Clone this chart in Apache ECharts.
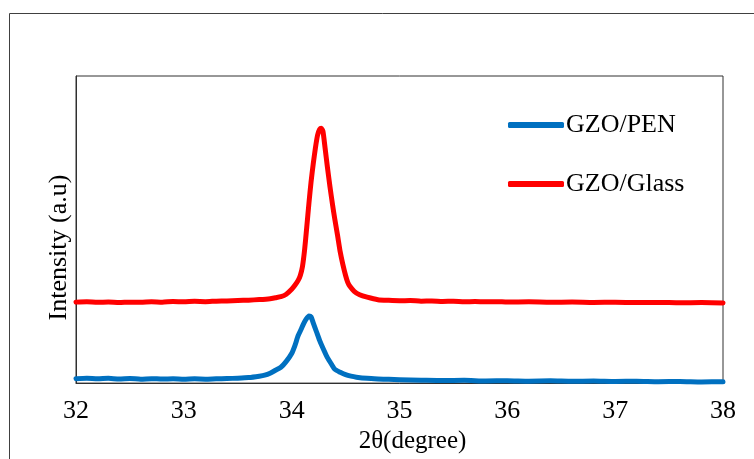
<!DOCTYPE html>
<html>
<head>
<meta charset="utf-8">
<script src="https://cdn.jsdelivr.net/npm/echarts@6/dist/echarts.min.js"></script>
<style>
  html, body { margin: 0; padding: 0; background: #fff; }
  #chart { width: 754px; height: 459px; }
</style>
</head>
<body>
<div id="chart"></div>
<script>
// x tick labels (2θ)
var xTicks = [32, 33, 34, 35, 36, 37, 38];

// GZO/Glass trace (2θ, intensity a.u.)
var glassTheta = [32.0, 32.1, 32.2, 32.3, 32.4, 32.5, 32.6, 32.7, 32.8, 32.9, 33.0, 33.1, 33.2, 33.3, 33.4, 33.5, 33.6, 33.7, 33.8, 33.85,
  33.9, 33.95, 34.0, 34.03, 34.06, 34.08, 34.1, 34.12, 34.14, 34.16, 34.18, 34.2, 34.22, 34.24, 34.26, 34.275, 34.29, 34.31, 34.33, 34.355,
  34.38, 34.4, 34.425, 34.45, 34.475, 34.5, 34.52, 34.54, 34.58, 34.63, 34.7, 34.8, 34.9, 35.0, 35.1, 35.2, 35.3, 35.4, 35.5, 35.6,
  35.7, 35.8, 35.9, 36.0, 36.2, 36.4, 36.6, 36.8, 37.0, 37.2, 37.4, 37.6, 37.8, 38.0];
var glassInt = [82, 82.5, 81.8, 82.2, 81.6, 82.0, 81.8, 82.4, 82.0, 82.6, 82.3, 82.8, 82.5, 83.0, 83.2, 83.6, 84.0, 84.6, 85.5, 86.5,
  87.5, 90, 95, 99, 104, 109, 118, 135, 158, 182, 204, 222, 238, 251, 257, 258, 255, 238, 220, 199,
  180, 166, 150, 133, 120, 109, 102, 98, 93, 89.5, 87, 84.5, 83.8, 83.4, 83.6, 83.0, 83.2, 82.7, 82.9, 82.4,
  82.6, 82.3, 82.5, 82.1, 82.3, 81.9, 82.1, 81.7, 81.9, 81.5, 81.7, 81.3, 81.5, 81.2];

// GZO/PEN trace
var penTheta = [32.0, 32.1, 32.2, 32.3, 32.4, 32.5, 32.6, 32.7, 32.8, 32.9, 33.0, 33.1, 33.2, 33.3, 33.4, 33.5, 33.6, 33.7, 33.75, 33.8,
  33.85, 33.9, 33.95, 34.0, 34.03, 34.06, 34.09, 34.11, 34.13, 34.16, 34.18, 34.2, 34.23, 34.26, 34.3, 34.33, 34.37, 34.4, 34.45, 34.5,
  34.55, 34.6, 34.7, 34.8, 34.9, 35.0, 35.2, 35.4, 35.6, 35.8, 36.0, 36.2, 36.4, 36.6, 36.8, 37.0, 37.2, 37.4, 37.6, 37.8, 38.0];
var penInt = [4.5, 5.0, 4.3, 4.8, 4.2, 4.6, 4.0, 4.5, 4.1, 4.4, 3.9, 4.3, 4.0, 4.4, 4.6, 5.0, 5.6, 7, 8, 10,
  13, 16, 22, 30, 38, 48, 55, 60, 64, 68, 67, 61, 52, 43, 33, 26, 19, 14, 11, 8.5,
  7, 6, 4.8, 4.2, 3.8, 3.4, 3.0, 2.6, 2.8, 2.2, 2.5, 2.0, 2.3, 1.8, 2.1, 1.6, 1.9, 1.4, 1.7, 1.2, 1.4];

var zipData = function (xs, ys) {
  var out = [];
  for (var i = 0; i < xs.length; i++) {
    out.push([xs[i], ys[i]]);
  }
  return out;
};

var serif = 'Liberation Serif';
var chart = echarts.init(document.getElementById('chart'));

chart.setOption({
  animation: false,
  backgroundColor: '#fff',
  graphic: [{
    type: 'rect',
    shape: { x: 9.5, y: 13.5, width: 800, height: 500 },
    style: { fill: 'none', stroke: '#404040', lineWidth: 1 }
  }],
  grid: {
    left: 76, right: 31, top: 76, bottom: 72,
    show: true, borderColor: '#303030', borderWidth: 1
  },
  legend: {
    orient: 'vertical',
    left: 503, top: 107,
    itemWidth: 56, itemHeight: 6, itemGap: 33,
    icon: 'roundRect',
    data: ['GZO/PEN', 'GZO/Glass'],
    textStyle: { fontFamily: serif, fontSize: 26, color: '#000', padding: [0, 0, 0, -3] }
  },
  xAxis: {
    type: 'value',
    min: 32, max: 38, interval: 1,
    axisLine: { show: true, lineStyle: { color: '#303030', width: 1 } },
    axisTick: { show: false },
    splitLine: { show: false },
    axisLabel: {
      margin: 15, fontFamily: serif, fontSize: 26, color: '#000',
      formatter: function (v) { return xTicks.indexOf(v) >= 0 ? String(v) : ''; }
    },
    name: '2θ(degree)',
    nameLocation: 'middle',
    nameGap: 36,
    nameTextStyle: { fontFamily: serif, fontSize: 25, color: '#000', padding: [0, 0, 0, 26] }
  },
  yAxis: {
    type: 'value',
    min: 0, max: 311,
    axisLine: { show: true, lineStyle: { color: '#303030', width: 1 } },
    axisTick: { show: false },
    axisLabel: { show: false },
    splitLine: { show: false },
    name: 'Intensity (a.u)',
    nameLocation: 'middle',
    nameGap: 4,
    nameTextStyle: { fontFamily: serif, fontSize: 26, color: '#000', padding: [0, 36, 0, 0] }
  },
  series: [
    {
      name: 'GZO/PEN',
      type: 'line',
      data: zipData(penTheta, penInt),
      showSymbol: false,
      smooth: 0.2,
      color: '#0070C0',
      lineStyle: { width: 5, cap: 'round', join: 'round' }
    },
    {
      name: 'GZO/Glass',
      type: 'line',
      data: zipData(glassTheta, glassInt),
      showSymbol: false,
      smooth: 0.2,
      color: '#FF0000',
      lineStyle: { width: 5, cap: 'round', join: 'round' }
    }
  ]
});
</script>
</body>
</html>
